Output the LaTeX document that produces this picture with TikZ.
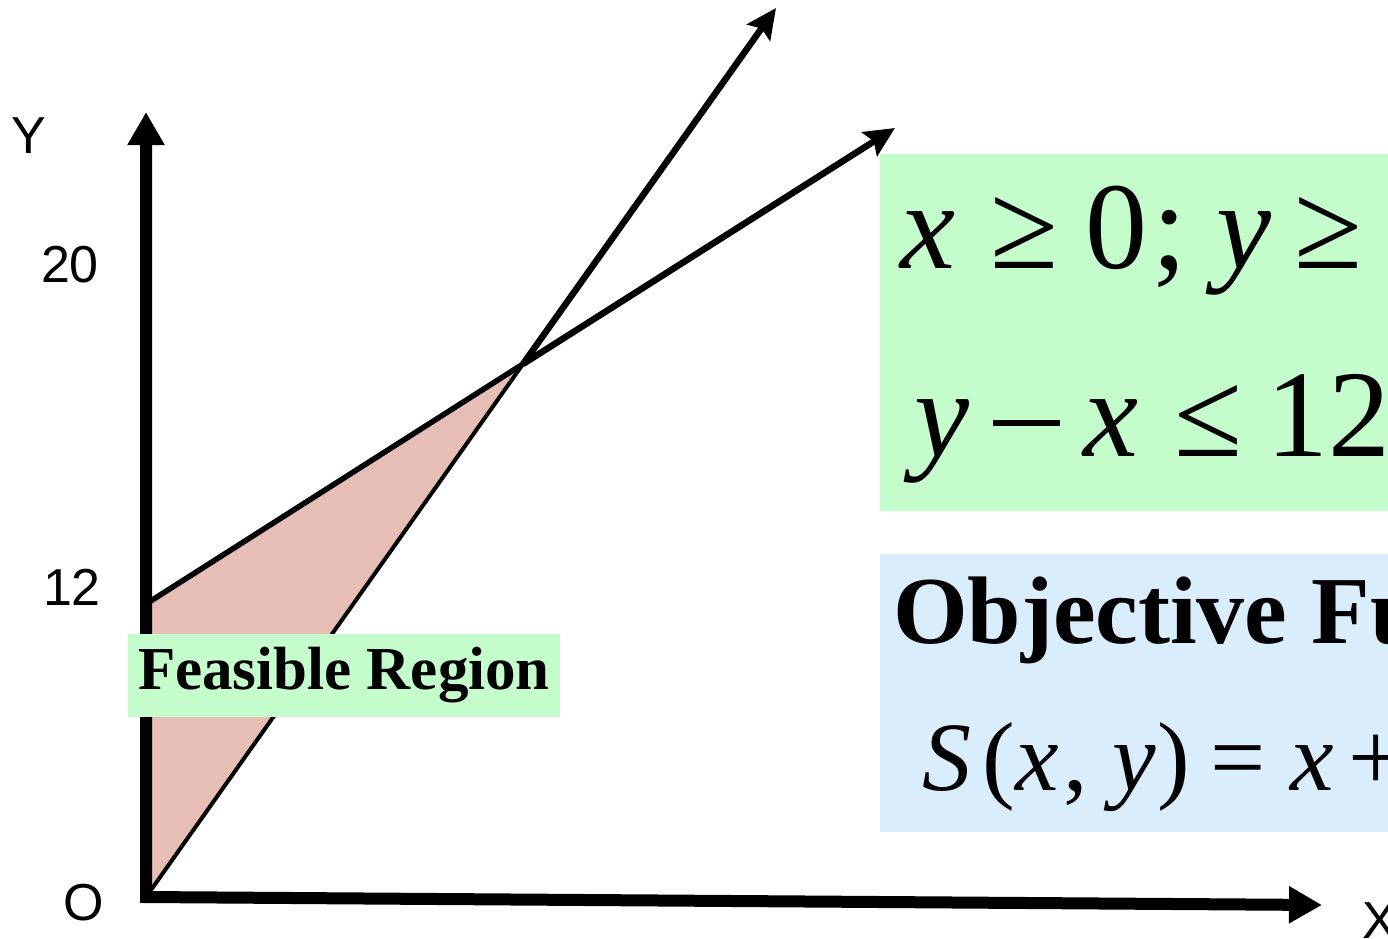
\documentclass[tikz,border=0pt]{standalone}
\usepackage{fontspec}
\setmainfont{Liberation Serif}
\newfontfamily\axisfont{Liberation Sans}
\usetikzlibrary{arrows.meta}
\definecolor{feasfill}{RGB}{230,190,182}
\definecolor{boxgreen}{RGB}{197,252,203}
\definecolor{boxblue}{RGB}{217,237,252}
\begin{document}
\begin{tikzpicture}[x=1pt,y=-1pt,
  tok/.style={anchor=base west,inner sep=0pt,outer sep=0pt},
  big/.style={tok,font=\fontsize{124}{124}\selectfont},
  mid/.style={tok,font=\fontsize{98}{98}\selectfont},
  axlab/.style={tok,font=\axisfont\fontsize{52}{52}\selectfont},
  axisline/.style={line width=12pt,line join=miter,{Triangle[length=33pt,width=35pt]}-{Triangle[length=33pt,width=35pt]}},
  boundary/.style={line width=6.5pt,-{Stealth[length=30pt,width=28pt,inset=5pt]}},
  panel/.style={anchor=north west,inner sep=0pt,outer sep=0pt}]
\useasboundingbox (0,0) rectangle (1388,938);
\clip (0,0) rectangle (1388,938);
\fill[white] (0,0) rectangle (1388,938);
% key points
\coordinate (O) at (146,897);
\coordinate (Y12) at (146,604);
\coordinate (P) at (523,364);
\coordinate (T1) at (895,128);
\coordinate (T2) at (776,8);
\coordinate (Ytip) at (146,112);
\coordinate (Xtip) at (1322,905);
% feasible region
\fill[feasfill] (O) -- (Y12) -- (P) -- cycle;
% boundary lines
\draw[line width=4pt] (O) -- (P);
\draw[boundary] (P) -- (T2);
\draw[line width=5.5pt] (Y12) -- (P);
\draw[boundary] (P) -- (T1);
% axes
\draw[axisline] (Ytip) -- (O) -- (Xtip);
% axis labels
\node[axlab] (ly) at (12,153) {Y};
\node[axlab] (l20) at (41,282) {20};
\node[axlab] (l12) at (43,605) {12};
\node[axlab] (lo) at (63,920) {O};
\node[axlab] (lx) at (1362,938) {X};
% feasible region label
\node[panel,fill=boxgreen,minimum width=432pt,minimum height=83pt,
  font=\bfseries\fontsize{61}{61}\selectfont] (feas) at (128,634) {Feasible Region};
% constraint panel
\node[panel,fill=boxgreen,minimum width=520pt,minimum height=357pt] (cpanel) at (880,154) {};
\node[big] (c1) at (900,268) {\itshape x};
\node[big] (c2) at (990,268) {≥};
\node[big] (c3) at (1085,268) {0};
\node[big] (c4) at (1152,268) {;};
\node[big] (c5) at (1216,268) {\itshape y};
\node[big] (c6) at (1294,268) {≥};
\node[big] (d1) at (914,456) {\itshape y};
\node[tok] (d2) at (993,456) {\rule[30pt]{67pt}{6pt}};
\node[big] (d3) at (1083,456) {\itshape x};
\node[big] (d4) at (1174,456) {≤};
\node[big] (d5) at (1266,456) {12};
% objective panel
\node[panel,fill=boxblue,minimum width=520pt,minimum height=278pt] (opanel) at (880,554) {};
\node[tok,font=\bfseries\fontsize{96}{96}\selectfont] (otitle) at (893,643) {Objective Function};
\node[mid] (s1) at (922,790) {\itshape S};
\node[mid] (s2) at (982,790) {(};
\node[mid] (s3) at (1015,790) {\itshape x};
\node[mid] (s4) at (1063,790) {,};
\node[mid] (s5) at (1112,790) {\itshape y};
\node[mid] (s6) at (1157,790) {)};
\node[mid] (s7) at (1210,790) {=};
\node[mid] (s8) at (1290,790) {\itshape x};
\node[mid] (s9) at (1348,790) {+};
\end{tikzpicture}
\end{document}
